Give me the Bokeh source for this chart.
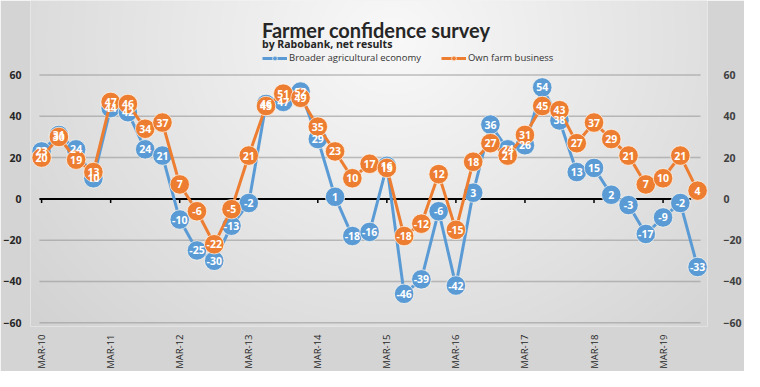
import numpy as np
from bokeh.plotting import figure
from bokeh.models import (FixedTicker, LinearAxis, Label, Legend, LegendItem, Range1d)
from bokeh.core.properties import value
from bokeh.embed import file_html
from bokeh.resources import INLINE

# ---------------- data ----------------
title_text = "Farmer confidence survey"
subtitle_text = "by Rabobank, net results"
series_names = ["Broader agricultural economy", "Own farm business"]

# quarterly survey results, first value = March 2010
broader = [23, 31, 24, 10, 44, 42, 24, 21, -10, -25, -30, -13, -2, 46, 47, 52, 29, 1,
           -18, -16, 16, -46, -39, -6, -42, 3, 36, 24, 26, 54, 38, 13, 15, 2, -3, -17,
           -9, -2, -33]
own = [20, 30, 19, 13, 47, 46, 34, 37, 7, -6, -22, -5, 21, 45, 51, 49, 35, 23,
       10, 17, 15, -18, -12, 12, -15, 18, 27, 21, 31, 45, 43, 27, 37, 29, 21, 7,
       10, 21, 4]
tick_labels = ["MAR-10", "MAR-11", "MAR-12", "MAR-13", "MAR-14",
               "MAR-15", "MAR-16", "MAR-17", "MAR-18", "MAR-19"]
y_ticks = [-60, -40, -20, 0, 20, 40, 60]
quarters_per_year = 4

# ---------------- derived ----------------
xq = list(range(len(broader)))
tick_pos = [i * quarters_per_year for i in range(len(tick_labels))]

BLUE = "#5B9BD5"
ORANGE = "#ED7D31"
FONT = "Open Sans"

W, H = 744, 371
ML, MR, MT, MB = 27, 34, 0, 44
x0, x1 = -0.643, 38.574          # frame (markers may overhang plot area)
px0, px1 = -0.126, 38.17         # plot area spanned by gridlines
zx1 = 37.6                       # end of the horizontal category axis line
y0, y1 = -61.84, 96.14

p = figure(width=W, height=H, output_backend="svg", toolbar_location=None,
           title=None, x_range=Range1d(x0, x1), y_range=Range1d(y0, y1),
           min_border_left=ML, min_border_right=MR, min_border_top=MT,
           min_border_bottom=MB, border_fill_color="#d4d4d4",
           background_fill_color="#e8e8e8", outline_line_color=None)

# radial grey background inside the frame
FW, FH = W - ML - MR, H - MT - MB
pxs = np.arange(FW) + ML
pys = MT + (FH - 1 - np.arange(FH))  # row 0 = bottom
PX, PY = np.meshgrid(pxs, pys)
rx, ry = PX / 0.979, PY / 0.959
d = np.sqrt(((rx - 400) / 420) ** 2 + ((ry - 40) / 380) ** 2)
c = np.clip(249 - 33 * d, 0, 255).astype(np.uint8)
img = np.empty((FH, FW), dtype=np.uint32)
view = img.view(dtype=np.uint8).reshape((FH, FW, 4))
view[..., 0] = c
view[..., 1] = c
view[..., 2] = c
view[..., 3] = 255
p.image_rgba(image=[img], x=x0, y=y0, dw=x1 - x0, dh=y1 - y0, level="image")

# grid lines limited to the plot area
p.xgrid.visible = False
p.ygrid.visible = False
p.segment(x0=[px0] * len(y_ticks), y0=y_ticks, x1=[px1] * len(y_ticks), y1=y_ticks,
          line_color="#9c9c9c", line_alpha=0.65, line_width=1.5)

# axes
ya = p.yaxis[0]
ya.ticker = FixedTicker(ticks=y_ticks)
ya.axis_line_color = None
ya.major_tick_line_color = None
ya.minor_tick_line_color = None
ya.major_label_standoff = 3
ya.major_label_text_font = FONT
ya.major_label_text_font_style = "bold"
ya.major_label_text_font_size = "10.5px"
ya.major_label_text_color = "#262626"

ax_r = LinearAxis(ticker=FixedTicker(ticks=y_ticks), axis_line_color=None,
                  major_tick_line_color=None, minor_tick_line_color=None,
                  major_label_standoff=10, major_label_text_font=FONT,
                  major_label_text_font_style="bold",
                  major_label_text_font_size="10.5px",
                  major_label_text_color="#404040")
p.add_layout(ax_r, "right")

xa = p.xaxis[0]
xa.ticker = FixedTicker(ticks=tick_pos)
xa.major_label_overrides = {t: l for t, l in zip(tick_pos, tick_labels)}
xa.major_label_orientation = np.pi / 2
xa.axis_line_color = None
xa.major_tick_line_color = None
xa.minor_tick_line_color = None
xa.major_label_standoff = 2
xa.major_label_text_font = FONT
xa.major_label_text_font_size = "9.5px"
xa.major_label_text_color = "#262626"

# zero line (horizontal category axis) with year ticks
p.segment(x0=[px0], y0=[0], x1=[zx1], y1=[0], line_color="black", line_width=2)
p.segment(x0=tick_pos, y0=[0] * len(tick_pos), x1=tick_pos,
          y1=[-2] * len(tick_pos), line_color="black", line_width=1.5)

# series
bl = p.line(xq, broader, line_color=BLUE, line_width=3)
bs = p.scatter(xq, broader, size=19.5, fill_color=BLUE, line_color="#fffaf0",
               line_alpha=0.7, line_width=1)
ol = p.line(xq, own, line_color=ORANGE, line_width=3)
os_ = p.scatter(xq, own, size=19.5, fill_color=ORANGE, line_color="#fffaf0",
                line_alpha=0.7, line_width=1)

for vals in (broader, own):
    p.text(xq, vals, text=[str(v) for v in vals], text_color="white",
           text_font=value(FONT), text_font_style="bold",
           text_font_size="10.5px", text_align="center",
           text_baseline="middle")

# legend
legend = Legend(items=[LegendItem(label=series_names[0], renderers=[bl, bs]),
                       LegendItem(label=series_names[1], renderers=[ol, os_])],
                location=(232, 262), orientation="horizontal",
                background_fill_alpha=0, border_line_color=None,
                glyph_width=25, glyph_height=12, label_standoff=2, spacing=20,
                padding=0, margin=0, label_text_font=FONT,
                label_text_font_size="9.5px", label_text_color="#333333")
p.add_layout(legend)

# titles
p.add_layout(Label(x=231.5, y=296.6, x_units="screen", y_units="screen",
                   text=title_text, text_font="Lato", text_font_style="bold",
                   text_font_size="20px", text_color="#262626",
                   text_baseline="alphabetic"))
p.add_layout(Label(x=231.5, y=282.2, x_units="screen", y_units="screen",
                   text=subtitle_text, text_font=FONT, text_font_style="bold",
                   text_font_size="10.5px", text_color="#262626",
                   text_baseline="alphabetic"))

open("out.html", "w").write(file_html(p, INLINE))
